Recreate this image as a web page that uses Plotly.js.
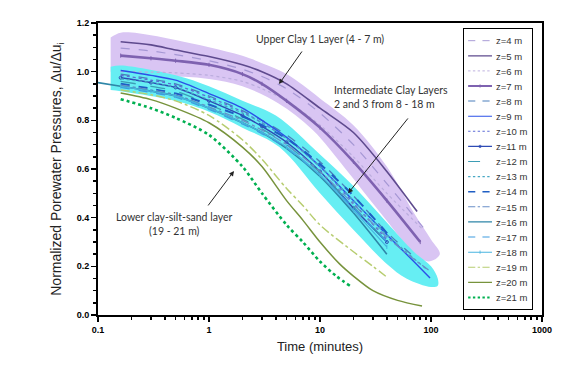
<!DOCTYPE html>
<html>
<head>
<meta charset="utf-8">
<script src="https://cdn.plot.ly/plotly-3.0.1.min.js"></script>
<style>
  body { margin: 0; background: #fff; }
  #chart { width: 574px; height: 366px; }
</style>
</head>
<body>
<div id="chart"></div>
<script>
// Upper clay 1 layer (4 - 7 m)
const tZ4 = [0.16, 0.3, 0.5, 1, 2, 3, 5, 10, 20, 40, 85];
const z4 = [1.097, 1.085, 1.07, 1.045, 1.01, 0.98, 0.93, 0.83, 0.70, 0.54, 0.36];
const tZ5 = [0.16, 0.3, 0.5, 1, 2, 3, 5, 10, 20, 40, 75];
const z5 = [1.123, 1.11, 1.089, 1.062, 1.028, 1.0, 0.95, 0.85, 0.75, 0.59, 0.425];
const tZ6 = [0.16, 0.3, 0.5, 1, 2, 3, 5, 10, 20, 40, 85];
const z6 = [1.0, 0.998, 0.995, 0.985, 0.96, 0.93, 0.88, 0.78, 0.65, 0.50, 0.35];
const tZ7 = [0.16, 0.3, 0.5, 1, 2, 3, 5, 10, 20, 40, 80];
const z7 = [1.066, 1.055, 1.045, 1.028, 0.99, 0.95, 0.88, 0.77, 0.63, 0.47, 0.30];

// Intermediate clay layers 2 and 3 (8 - 18 m)
const tMid = [0.16, 0.3, 0.5, 1, 2, 3, 5, 10, 20, 40];
const tZ8 = [0.16, 0.3, 0.5, 1, 2, 3, 5, 10, 20, 40, 70];
const z8 = [0.99, 0.97, 0.95, 0.90, 0.84, 0.80, 0.74, 0.63, 0.49, 0.34, 0.24];
const tZ9 = [0.16, 0.3, 0.5, 1, 2, 3, 5, 10, 20, 40, 70, 98];
const z9 = [1.005, 0.985, 0.965, 0.91, 0.85, 0.80, 0.73, 0.61, 0.47, 0.33, 0.22, 0.152];
const z10 = [0.985, 0.965, 0.945, 0.895, 0.835, 0.79, 0.725, 0.61, 0.46, 0.31];
const z11 = [0.975, 0.955, 0.935, 0.88, 0.82, 0.775, 0.71, 0.59, 0.44, 0.30];
const z12 = [0.96, 0.94, 0.92, 0.865, 0.805, 0.765, 0.70, 0.585, 0.445, 0.30];
const tZ13 = [0.16, 0.3, 0.5, 1, 2, 3, 5, 10, 20, 40, 90];
const z13 = [0.97, 0.955, 0.935, 0.885, 0.83, 0.79, 0.725, 0.61, 0.47, 0.33, 0.19];
const tZ14 = [0.16, 0.3, 0.5, 1, 2, 3, 5, 10, 20, 45];
const z14 = [0.95, 0.93, 0.91, 0.865, 0.815, 0.78, 0.725, 0.62, 0.49, 0.31];
const tZ15 = [0.16, 0.3, 0.5, 1, 2, 3, 5, 10, 20, 40, 70, 95];
const z15 = [0.945, 0.925, 0.905, 0.855, 0.80, 0.76, 0.70, 0.59, 0.455, 0.32, 0.23, 0.185];
const tZ16 = [0.1, 0.16, 0.3, 0.5, 1, 2, 3, 5, 10, 20, 40];
const z16 = [0.955, 0.94, 0.92, 0.90, 0.85, 0.79, 0.75, 0.685, 0.57, 0.42, 0.25];
const z17 = [0.935, 0.915, 0.895, 0.845, 0.785, 0.745, 0.685, 0.575, 0.44, 0.30];
const z18 = [0.94, 0.92, 0.90, 0.85, 0.79, 0.75, 0.69, 0.575, 0.43, 0.28];

// Lower clay-silt-sand layer (19 - 21 m)
const tZ19 = [0.16, 0.3, 0.5, 1, 2, 3, 5, 7, 10, 20, 30, 41];
const z19 = [0.925, 0.905, 0.88, 0.82, 0.72, 0.64, 0.52, 0.45, 0.37, 0.26, 0.20, 0.152];
const tZ20 = [0.16, 0.3, 0.5, 1, 2, 3, 5, 7, 10, 15, 20, 30, 50, 83];
const z20 = [0.912, 0.885, 0.85, 0.79, 0.69, 0.61, 0.47, 0.39, 0.30, 0.21, 0.16, 0.10, 0.06, 0.037];
const tZ21 = [0.16, 0.3, 0.5, 1, 2, 3, 5, 7, 10, 14, 18.6];
const z21 = [0.887, 0.85, 0.81, 0.74, 0.61, 0.50, 0.37, 0.30, 0.22, 0.16, 0.12];

// highlighted envelopes
const upperBandTop_t = [0.13, 0.16, 0.3, 0.5, 1, 2, 3, 5, 10, 20, 40, 70, 100, 120];
const upperBandTop = [1.14, 1.16, 1.15, 1.13, 1.10, 1.065, 1.035, 0.99, 0.89, 0.78, 0.61, 0.42, 0.31, 0.25];
const upperBandLow_t = [0.13, 0.16, 0.5, 1, 2, 4.2, 8.6, 17, 35, 69, 95];
const upperBandLow = [1.0, 0.985, 0.98, 0.97, 0.94, 0.87, 0.76, 0.60, 0.42, 0.26, 0.22];
const midBandTop_t = [0.13, 0.16, 0.5, 1, 2, 4, 10, 20, 40, 70, 100, 115];
const midBandTop = [1.02, 1.025, 0.985, 0.94, 0.88, 0.82, 0.66, 0.53, 0.38, 0.26, 0.20, 0.15];
const midBandLow_t = [0.13, 0.16, 0.5, 1, 2, 4.3, 10, 20, 40, 60, 100, 115];
const midBandLow = [0.925, 0.92, 0.88, 0.835, 0.77, 0.69, 0.50, 0.35, 0.21, 0.15, 0.115, 0.12];

const legendNames = ['z=4 m','z=5 m','z=6 m','z=7 m','z=8 m','z=9 m','z=10 m','z=11 m','z=12 m',
  'z=13 m','z=14 m','z=15 m','z=16 m','z=17 m','z=18 m','z=19 m','z=20 m','z=21 m'];

function band(tTop, vTop, tLow, vLow, color) {
  return {
    x: tTop.concat(tLow.slice().reverse()),
    y: vTop.concat(vLow.slice().reverse()),
    mode: 'lines', fill: 'toself', fillcolor: color,
    line: { width: 0, shape: 'spline', smoothing: 1 },
    hoverinfo: 'skip', showlegend: false
  };
}

function series(name, t, v, color, dash, width, marker) {
  const tr = {
    x: t, y: v, name: name, type: 'scatter',
    mode: marker ? 'lines+markers' : 'lines',
    line: { color: color, dash: dash, width: width, shape: 'spline', smoothing: 0.8 }
  };
  if (marker) tr.marker = marker;
  return tr;
}

const traces = [
  band(upperBandTop_t, upperBandTop, upperBandLow_t, upperBandLow, '#D9C5F3'),
  band(midBandTop_t, midBandTop, midBandLow_t, midBandLow, '#66EEF3'),
  series(legendNames[0], tZ4, z4, '#A597D4', 'dash', 1.2),
  series(legendNames[1], tZ5, z5, '#5E4A8E', 'solid', 1.6),
  series(legendNames[2], tZ6, z6, '#BBADDD', 'dot', 1.2),
  series(legendNames[3], tZ7, z7, '#7E62B0', 'solid', 2.6, { symbol: 'line-ns-open', size: 3, color: '#7E62B0' }),
  series(legendNames[4], tZ8, z8, '#4A7EBB', 'dash', 1.3),
  series(legendNames[5], tZ9, z9, '#2B50E8', 'solid', 1.4),
  series(legendNames[6], tMid, z10, '#5C6BD6', 'dot', 1.3),
  series(legendNames[7], tMid, z11, '#2E4BB5', 'solid', 1.5, { symbol: 'circle-open', size: 3, color: '#2E4BB5' }),
  series(legendNames[8], tMid, z12, '#3D9DB5', 'longdash', 1.3),
  series(legendNames[9], tZ13, z13, '#48A8C4', 'dot', 1.3),
  series(legendNames[10], tZ14, z14, '#1F5EC4', 'dash', 2),
  series(legendNames[11], tZ15, z15, '#6A8FC8', 'dashdot', 1.3),
  series(legendNames[12], tZ16, z16, '#2E86A8', 'solid', 1.6),
  series(legendNames[13], tMid, z17, '#3D9BE0', 'dash', 1.3),
  series(legendNames[14], tMid, z18, '#48B4E0', 'solid', 1.3, { symbol: 'line-ns-open', size: 3, color: '#48B4E0' }),
  series(legendNames[15], tZ19, z19, '#B7CD70', 'dashdot', 1.5),
  series(legendNames[16], tZ20, z20, '#77933C', 'solid', 1.5),
  series(legendNames[17], tZ21, z21, '#00B050', 'dot', 2.6)
];

const lg = Math.log10;
const noteFont = { family: 'Lato, Arial, sans-serif', size: 10.5, color: '#333' };

function arrow(tailT, tailV, tipT, tipV) {
  return {
    x: lg(tipT), y: tipV, ax: lg(tailT), ay: tailV, axref: 'x', ayref: 'y',
    text: '', showarrow: true, arrowhead: 2, arrowsize: 1, arrowwidth: 1, arrowcolor: '#222'
  };
}

const layout = {
  width: 574, height: 366,
  margin: { l: 98, r: 32, t: 23, b: 51 },
  paper_bgcolor: '#fff', plot_bgcolor: '#fff',
  showlegend: true,
  legend: {
    x: 0.822, y: 0.983, xanchor: 'left', yanchor: 'top',
    bgcolor: '#fff', bordercolor: '#000', borderwidth: 1.5,
    font: { family: 'Arial, sans-serif', size: 12, color: '#333' },
    itemwidth: 30, tracegroupgap: 0, maxheight: 2000
  },
  xaxis: {
    type: 'log', range: [-1, 3],
    tickvals: [0.1, 1, 10, 100, 1000], ticktext: ['0.1', '1', '10', '100', '1000'],
    ticks: 'outside', ticklen: 5, tickwidth: 1.5, tickcolor: '#000',
    minor: { ticks: 'outside', ticklen: 3, tickcolor: '#000', dtick: 'D1' },
    showline: true, linecolor: '#000', linewidth: 2, mirror: true,
    showgrid: false, zeroline: false,
    tickfont: { family: 'Arial, sans-serif', size: 9, color: '#000', weight: 'bold' },
    title: { text: 'Time (minutes)', font: { family: 'Arial, sans-serif', size: 13, color: '#222' }, standoff: 8 }
  },
  yaxis: {
    range: [0, 1.2], dtick: 0.2, tickformat: '.1f',
    ticks: 'outside', ticklen: 5, tickwidth: 1.5, tickcolor: '#000',
    minor: { ticks: 'outside', ticklen: 3, tickcolor: '#000', dtick: 0.05 },
    showline: true, linecolor: '#000', linewidth: 2, mirror: true,
    showgrid: false, zeroline: false,
    tickfont: { family: 'Arial, sans-serif', size: 9, color: '#000', weight: 'bold' },
    title: { text: 'Normalized Porewater Pressures, \u0394u/\u0394u<sub>i</sub>', font: { family: 'Arial, sans-serif', size: 14, color: '#222' }, standoff: 12 }
  },
  annotations: [
    { x: lg(10), y: 1.134, text: 'Upper Clay 1 Layer (4 - 7 m)', showarrow: false, font: noteFont },
    arrow(7.03, 1.089, 4.27, 0.949),
    { x: lg(43.7), y: 0.896, text: 'Intermediate Clay Layers<br>2 and 3 from 8 - 18 m', showarrow: false, align: 'left', font: noteFont },
    arrow(63.5, 0.814, 17.9, 0.50),
    { x: lg(0.489), y: 0.372, text: 'Lower clay-silt-sand layer<br>(19 - 21 m)', showarrow: false, align: 'center', font: noteFont },
    arrow(0.96, 0.444, 1.68, 0.592)
  ]
};

Plotly.newPlot('chart', traces, layout, { staticPlot: true }).then(gd => {
  // the legend is taller than the plot allows: shrink it and put its top back where the layout asked
  const leg = gd.querySelector('g.legend');
  if (!leg) return;
  const size = gd._fullLayout._size;
  const m = /translate\(\s*([-\d.]+)[ ,]+([-\d.]+)\s*\)/.exec(leg.getAttribute('transform'));
  const left = m ? parseFloat(m[1]) : size.l + 0.822 * size.w;
  const top = size.t + (1 - 0.983) * size.h;
  leg.setAttribute('transform', 'translate(' + left + ',' + top + ') scale(0.795)');
});
</script>
</body>
</html>
